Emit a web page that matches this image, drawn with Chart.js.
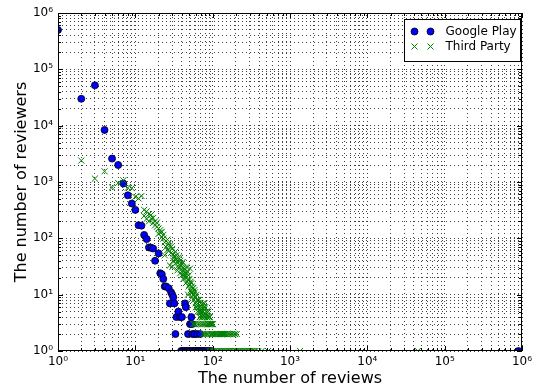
<!DOCTYPE html>
<html>
<head>
<meta charset="utf-8">
<script src="https://cdn.jsdelivr.net/npm/chart.js@4.4.0/dist/chart.umd.min.js"></script>
<style>
  body { margin: 0; background: #fff; }
  #wrap { width: 539px; height: 389px; }
</style>
</head>
<body>
<div id="wrap"><canvas id="reviewChart"></canvas></div>
<script>
// Google Play: number of reviews -> number of reviewers
const gpReviews = [1, 2, 3, 4, 5, 6, 7, 8, 9, 10, 11, 12, 13, 14, 15, 16, 17, 18, 20, 21, 22, 23, 24, 25,
  27, 28, 29, 30, 31, 32, 33, 34, 36, 38, 40, 44, 45, 48, 51, 53, 54, 55, 58, 63, 69,
  39, 41, 42, 43, 46, 47, 49, 50, 52, 56, 57, 59, 60, 61, 62, 64, 65, 66, 67, 70, 72, 75, 78, 82, 86, 91, 96, 900000];
const gpReviewers = [500000, 30000, 52000, 8400, 2600, 2000, 940, 580, 415, 320, 171, 168, 115, 97, 69, 68, 66, 40, 54, 24, 23, 19, 14, 14,
  13, 7, 11, 10, 9, 7, 2, 4, 5, 4, 4, 7, 6, 2, 3, 4, 3, 2, 2, 2, 2,
  1, 1, 1, 1, 1, 1, 1, 1, 1, 1, 1, 1, 1, 1, 1, 1, 1, 1, 1, 1, 1, 1, 1, 1, 1, 1, 1, 1];

// Third Party
const tpReviews = [1, 2, 3, 4, 5, 6, 7, 8, 9, 10, 11, 12, 13, 14, 15, 16, 17, 18, 19, 20, 21, 22, 23, 24, 25,
  26, 27, 28, 29, 30, 31, 32, 33, 34, 35, 36, 37, 38, 39, 40, 41, 42, 43, 44, 45, 46, 47, 48, 49, 50,
  51, 52, 53, 54, 55, 56, 57, 58, 59, 60, 61, 62, 63, 64, 65, 66, 67, 68, 69, 70, 71, 72, 73, 74, 75,
  76, 77, 78, 79, 80, 81, 82, 83, 84, 85, 86, 87, 88, 89, 90, 92, 94, 95, 97, 101,
  13, 14, 15, 16, 17, 18, 19, 20, 21, 22, 23, 24, 25, 26, 27, 28, 29, 30, 31, 32, 33, 34, 35, 36, 37,
  38, 39, 40, 41, 42, 43, 44, 45, 46, 47, 48, 49, 50, 52, 53, 54, 55, 56, 58, 59, 60, 62, 64, 66, 68,
  70, 72, 74, 76, 78, 80, 84, 88, 92, 56, 60, 64, 68, 98, 74, 78,
  98, 100, 103, 106, 110, 112, 115, 120, 124, 128, 132, 136, 140, 145, 150, 156, 162, 170, 178, 186, 195, 205,
  91, 96, 102, 107, 113, 118, 123, 129, 134, 141, 147, 154, 161, 168, 175, 183, 191, 200, 209, 218, 228, 238,
  249, 260, 272, 284, 297, 310, 324, 340, 355, 390, 430, 520, 1350, 45000];
const tpReviewers = [8300, 2400, 1150, 1550, 800, 960, 1070, 790, 780, 545, 510, 565, 320, 222, 270, 225, 188, 200, 160, 150, 127, 105, 99, 50, 90,
  62, 81, 33, 71, 31, 40, 45, 36, 50, 27, 30, 44, 24, 28, 22, 38, 19, 25, 21, 16, 31, 17, 10, 14, 15,
  29, 12, 11, 9, 13, 13, 8, 3, 9, 7, 6, 6, 8, 5, 8, 6, 5, 4, 4, 7, 5, 3, 4, 5, 7,
  3, 6, 4, 3, 4, 2, 5, 3, 5, 2, 4, 3, 2, 3, 4, 4, 2, 3, 3, 3,
  250, 300, 200, 260, 230, 170, 190, 120, 140, 130, 115, 85, 70, 95, 60, 75, 55, 65, 52, 48, 58, 42, 38, 46, 34,
  40, 32, 35, 27, 30, 23, 28, 20, 24, 26, 18, 22, 19, 17, 16, 14, 11, 10, 12, 11, 9, 10, 7, 8, 6,
  5, 6, 4, 5, 7, 6, 4, 5, 3, 3, 3, 3, 3, 3, 2, 2,
  2, 2, 2, 2, 2, 2, 2, 2, 2, 2, 2, 2, 2, 2, 2, 2, 2, 2, 2, 2, 2, 2,
  1, 1, 1, 1, 1, 1, 1, 1, 1, 1, 1, 1, 1, 1, 1, 1, 1, 1, 1, 1, 1, 1,
  1, 1, 1, 1, 1, 1, 1, 1, 1, 1, 1, 1, 1, 1];

// log ticks 1..9 x 10^k and their labels
const tickValues = [1, 2, 3, 4, 5, 6, 7, 8, 9, 10, 20, 30, 40, 50, 60, 70, 80, 90,
  100, 200, 300, 400, 500, 600, 700, 800, 900, 1000, 2000, 3000, 4000, 5000, 6000, 7000, 8000, 9000,
  10000, 20000, 30000, 40000, 50000, 60000, 70000, 80000, 90000,
  100000, 200000, 300000, 400000, 500000, 600000, 700000, 800000, 900000, 1000000];
const decadeValues = [1, 10, 100, 1000, 10000, 100000, 1000000];
const decadeLabels = ['10⁰', '10¹', '10²', '10³', '10⁴', '10⁵', '10⁶'];

const seriesNames = ['Google Play', 'Third Party'];
const seriesColors = ['#0000ff', '#008000'];

function toPoints(xs, ys) {
  return xs.map((v, i) => ({ x: v, y: ys[i] }));
}

function decadeLabel(value) {
  const i = decadeValues.indexOf(value);
  return i >= 0 ? decadeLabels[i] : '';
}

const FONT = 'DejaVu Sans';

// inward ticks, frame and the matplotlib-style legend
const framePlugin = {
  id: 'framePlugin',
  afterDatasetsDraw(chart) {
    const { ctx, chartArea: a, scales: { x, y } } = chart;
    ctx.save();
    ctx.strokeStyle = '#000';
    ctx.lineWidth = 1;
    ctx.beginPath();
    x.ticks.forEach(t => {
      const px = Math.round(x.getPixelForValue(t.value)) + 0.5;
      const len = decadeValues.includes(t.value) ? 5 : 3;
      ctx.moveTo(px, a.bottom); ctx.lineTo(px, a.bottom - len);
      ctx.moveTo(px, a.top); ctx.lineTo(px, a.top + len);
    });
    y.ticks.forEach(t => {
      const py = Math.round(y.getPixelForValue(t.value)) + 0.5;
      const len = decadeValues.includes(t.value) ? 5 : 3;
      ctx.moveTo(a.left, py); ctx.lineTo(a.left + len, py);
      ctx.moveTo(a.right, py); ctx.lineTo(a.right - len, py);
    });
    ctx.stroke();
    ctx.strokeRect(Math.round(a.left) + 0.5, Math.round(a.top) + 0.5,
      Math.round(a.width) - 1, Math.round(a.height) - 1);

    // legend
    const bw = 116, bh = 42;
    const bx = Math.round(a.right) - bw - 1.5, by = Math.round(a.top) + 6.5;
    ctx.fillStyle = '#fff';
    ctx.fillRect(bx, by, bw, bh);
    ctx.strokeRect(bx, by, bw, bh);
    ctx.font = '12px "' + FONT + '"';
    ctx.textBaseline = 'middle';
    const rows = [by + 12, by + 27];
    rows.forEach((ry, i) => {
      [bx + 10, bx + 26].forEach(mx => {
        if (i === 0) {
          ctx.beginPath();
          ctx.arc(mx, ry, 3.5, 0, Math.PI * 2);
          ctx.fillStyle = seriesColors[0];
          ctx.fill();
          ctx.lineWidth = 0.8;
          ctx.strokeStyle = '#000';
          ctx.stroke();
        } else {
          ctx.beginPath();
          ctx.moveTo(mx - 3, ry - 3); ctx.lineTo(mx + 3, ry + 3);
          ctx.moveTo(mx - 3, ry + 3); ctx.lineTo(mx + 3, ry - 3);
          ctx.lineWidth = 1;
          ctx.strokeStyle = seriesColors[1];
          ctx.stroke();
        }
      });
      ctx.fillStyle = '#000';
      ctx.fillText(seriesNames[i], bx + 41, ry);
    });
    ctx.restore();
  }
};

function logAxis(title, isX) {
  return {
    type: 'logarithmic',
    min: 1,
    max: 1000000,
    afterBuildTicks(scale) {
      scale.ticks = tickValues.map(v => ({ value: v, major: false }));
    },
    afterFit(scale) {
      if (isX) scale.height = 38; else scale.width = 58;
    },
    grid: {
      color: 'rgba(0,0,0,0.75)',
      lineWidth: 1,
      drawTicks: false,
    },
    // in v4 the grid line dash comes from border.dash
    border: { display: false, dash: [1, 3] },
    ticks: {
      autoSkip: false,
      maxRotation: 0,
      padding: isX ? 4 : 5,
      color: '#000',
      font: { family: FONT, size: 12 },
      callback: v => decadeLabel(v),
    },
    title: {
      display: true,
      text: title,
      color: '#000',
      font: { family: FONT, size: 16 },
      padding: isX ? { top: 0, bottom: 1 } : { top: 12, bottom: 0 },
    },
  };
}

new Chart(document.getElementById('reviewChart'), {
  type: 'scatter',
  data: {
    datasets: [
      {
        label: seriesNames[0],
        data: toPoints(gpReviews, gpReviewers),
        pointStyle: 'circle',
        pointRadius: 3.5,
        backgroundColor: seriesColors[0],
        borderColor: '#000',
        borderWidth: 0.8,
        order: 1,
        clip: 0,
      },
      {
        label: seriesNames[1],
        data: toPoints(tpReviews, tpReviewers),
        pointStyle: 'crossRot',
        pointRadius: 4.3,
        backgroundColor: seriesColors[1],
        borderColor: seriesColors[1],
        borderWidth: 1,
        order: 0,
        clip: 0,
      },
    ],
  },
  options: {
    responsive: true,
    maintainAspectRatio: false,
    animation: false,
    devicePixelRatio: 1,
    layout: { padding: { left: 0, top: 13, right: 17, bottom: 0 } },
    scales: {
      x: logAxis('The number of reviews', true),
      y: logAxis('The number of reviewers', false),
    },
    plugins: {
      legend: { display: false },
      tooltip: { enabled: false },
    },
  },
  plugins: [framePlugin],
});
</script>
</body>
</html>
